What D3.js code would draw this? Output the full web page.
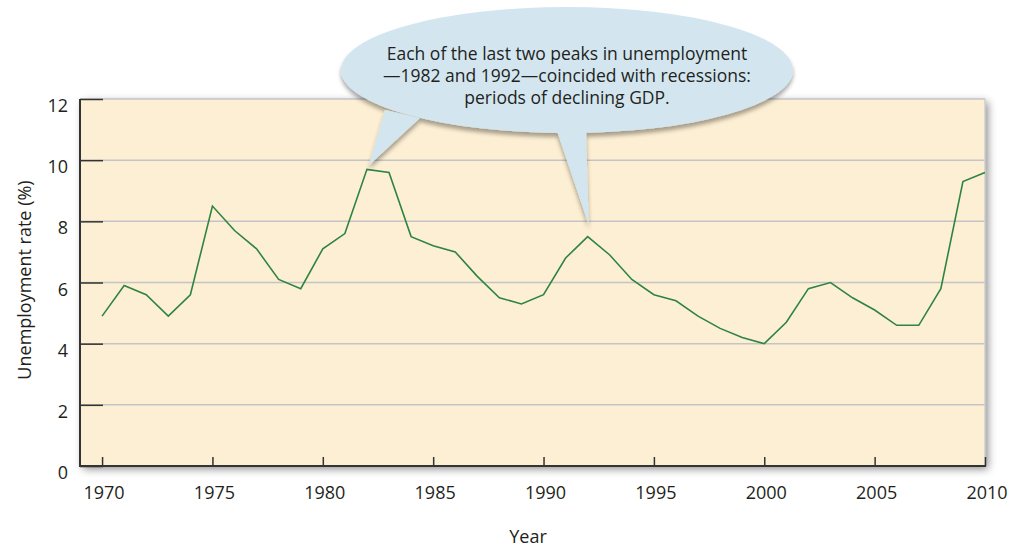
<!DOCTYPE html>
<html><head><meta charset="utf-8">
<script src="https://cdn.jsdelivr.net/npm/d3@7"></script>
<style>html,body{margin:0;padding:0;background:#fff;}svg{display:block;font-family:"Open Sans",sans-serif;}</style>
</head><body>
<svg id="chart" width="1022" height="548"></svg>
<script>
const years = d3.range(1970, 2011);
const unemployment = [4.9,5.9,5.6,4.9,5.6,8.5,7.7,7.1,6.1,5.8,7.1,7.6,9.7,9.6,7.5,7.2,7.0,6.2,5.5,5.3,5.6,6.8,7.5,6.9,6.1,5.6,5.4,4.9,4.5,4.2,4.0,4.7,5.8,6.0,5.5,5.1,4.6,4.6,5.8,9.3,9.6];
const xTicks = [1970,1975,1980,1985,1990,1995,2000,2005,2010];
const yTicks = [0,2,4,6,8,10,12];
const calloutLines = ["Each of the last two peaks in unemployment","\u20141982 and 1992\u2014coincided with recessions:","periods of declining GDP."];
const calloutPeaks = [1982, 1992];

const svg = d3.select("#chart");
const L = 80, R = 985, T = 99, B = 466;
const x = d3.scaleLinear().domain([1969, 2010]).range([L, R]);
const y = d3.scaleLinear().domain([0, 12]).range([B, T]);

const defs = svg.append("defs");
const f = defs.append("filter").attr("id","sh").attr("x","-10%").attr("y","-10%").attr("width","120%").attr("height","130%");
f.append("feDropShadow").attr("dx",3).attr("dy",3).attr("stdDeviation",4).attr("flood-color","#000").attr("flood-opacity",0.45);
const f2 = defs.append("filter").attr("id","sh2").attr("x","-10%").attr("y","-10%").attr("width","120%").attr("height","130%");
f2.append("feDropShadow").attr("dx",0).attr("dy",4).attr("stdDeviation",2).attr("flood-color","#000").attr("flood-opacity",0.35);

svg.append("rect").attr("x",L).attr("y",T).attr("width",R-L).attr("height",B-T)
  .attr("fill","#fdefd3").attr("filter","url(#sh)");

// gridlines
svg.append("g").selectAll("line").data(yTicks.filter(d=>d>0)).join("line")
  .attr("x1",L).attr("x2",R).attr("y1",d=>y(d)).attr("y2",d=>y(d))
  .attr("stroke","#c4c4c8").attr("stroke-width",1.5);
// right border
svg.append("line").attr("x1",R).attr("x2",R).attr("y1",T).attr("y2",B).attr("stroke","#cfcfcf").attr("stroke-width",1.5);

// y axis
const yAxis = svg.append("g").attr("transform",`translate(${L},0)`)
  .call(d3.axisRight(y).tickValues(yTicks).tickSize(23).tickFormat(""));
yAxis.select(".domain").remove();
yAxis.selectAll(".tick line").attr("stroke","#333").attr("stroke-width",1.5);
svg.append("g").selectAll("text").data(yTicks).join("text")
  .attr("x",68).attr("y",d=>y(d)+13).attr("text-anchor","end")
  .attr("font-size",18).attr("fill","#231f20").text(d=>d);

// x axis
const xAxis = svg.append("g").attr("transform",`translate(0,${B})`)
  .call(d3.axisTop(x).tickValues(xTicks).tickSize(9).tickFormat(""));
xAxis.select(".domain").remove();
xAxis.selectAll(".tick line").attr("stroke","#333").attr("stroke-width",1.5);
svg.append("g").selectAll("text").data(xTicks).join("text")
  .attr("x",d=>x(d)+2).attr("y",499).attr("text-anchor","middle")
  .attr("font-size",18).attr("fill","#231f20").text(d=>d);

// axis lines
svg.append("line").attr("x1",L).attr("x2",L).attr("y1",T).attr("y2",B+1).attr("stroke","#333").attr("stroke-width",2);
svg.append("line").attr("x1",L-1).attr("x2",R+1).attr("y1",B).attr("y2",B).attr("stroke","#333").attr("stroke-width",2);

// line
svg.append("path").datum(years.map((yr,i)=>[yr,unemployment[i]]))
  .attr("fill","none").attr("stroke","#2e8441").attr("stroke-width",1.6).attr("stroke-linejoin","miter")
  .attr("d", d3.line().x(d=>x(d[0])).y(d=>y(d[1])));

// axis titles
svg.append("text").attr("transform","translate(31,280) rotate(-90)").attr("text-anchor","middle")
  .attr("font-size",18).attr("fill","#231f20").text("Unemployment rate (%)");
svg.append("text").attr("x",528).attr("y",543).attr("text-anchor","middle")
  .attr("font-size",18).attr("fill","#231f20").text("Year");

// callout
const cx = 567, cy = 70, rx = 226, ry = 63;
const v1 = unemployment[years.indexOf(calloutPeaks[0])];
const v2 = unemployment[years.indexOf(calloutPeaks[1])];
const tip1 = [x(calloutPeaks[0]) + 2, y(v1) - 4];
const tip2 = [x(calloutPeaks[1]) + 1, y(v2) - 12];
const cg = svg.append("g").attr("filter","url(#sh2)");
const fill = "#d3e6f0";
cg.append("ellipse").attr("cx",cx).attr("cy",cy).attr("rx",rx).attr("ry",ry).attr("fill",fill);
cg.append("path").attr("fill",fill)
  .attr("d",`M385,110 L${tip1[0]},${tip1[1]} L420,118 Z`);
cg.append("path").attr("fill",fill)
  .attr("d",`M555,125 L${tip2[0]},${tip2[1]} L586,128 Z`);
svg.append("g").selectAll("text").data(calloutLines).join("text")
  .attr("x",cx).attr("y",(d,i)=>60+i*22).attr("text-anchor","middle")
  .attr("font-size",17.5).attr("fill","#231f20").text(d=>d);
</script>
</body></html>
